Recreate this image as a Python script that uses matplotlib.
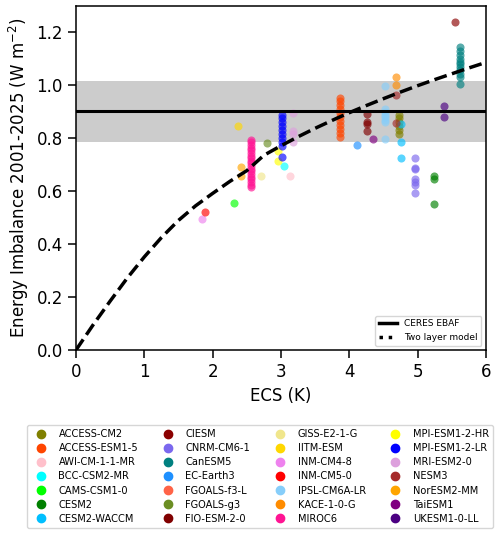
import matplotlib
matplotlib.use("Agg")
import matplotlib.pyplot as plt
from matplotlib.lines import Line2D

# observed imbalance (CERES EBAF) and its uncertainty band
ceres_mean = 0.902
ceres_low = 0.788
ceres_high = 1.015

# two layer model curve
curve_ecs = [0.0, 0.25, 0.5, 0.75, 1.0, 1.25, 1.5, 1.75, 2.0, 2.25, 2.5, 2.75,
             3.0, 3.25, 3.5, 3.75, 4.0, 4.25, 4.5, 4.75, 5.0, 5.25, 5.5, 5.75, 6.0]
curve_eei = [0.0, 0.095, 0.185, 0.272, 0.352, 0.425, 0.49, 0.545, 0.592, 0.637,
             0.678, 0.736, 0.772, 0.806, 0.838, 0.868, 0.897, 0.924, 0.95,
             0.975, 0.999, 1.022, 1.044, 1.066, 1.087]

models = ["ACCESS-CM2", "ACCESS-ESM1-5", "AWI-CM-1-1-MR", "BCC-CSM2-MR",
          "CAMS-CSM1-0", "CESM2", "CESM2-WACCM", "CIESM", "CNRM-CM6-1",
          "CanESM5", "EC-Earth3", "FGOALS-f3-L", "FGOALS-g3", "FIO-ESM-2-0",
          "GISS-E2-1-G", "IITM-ESM", "INM-CM4-8", "INM-CM5-0", "IPSL-CM6A-LR",
          "KACE-1-0-G", "MIROC6", "MPI-ESM1-2-HR", "MPI-ESM1-2-LR",
          "MRI-ESM2-0", "NESM3", "NorESM2-MM", "TaiESM1", "UKESM1-0-LL"]

colors = ["olive", "orangered", "pink", "cyan", "lime", "green", "deepskyblue",
          "darkred", "mediumslateblue", "teal", "dodgerblue", "tomato",
          "olivedrab", "maroon", "khaki", "gold", "violet", "red",
          "lightskyblue", "darkorange", "deeppink", "yellow", "blue", "plum",
          "brown", "orange", "purple", "indigo"]

ecs = [4.73, 3.86, 3.13, 3.04, 2.31, 5.24, 4.75, 5.54, 4.96, 5.62, 4.11, 3.0,
       2.79, 4.26, 2.71, 2.37, 1.85, 1.89, 4.52, 4.69, 2.56, 2.96, 3.02, 3.17,
       4.69, 2.42, 4.34, 5.38]

eei = [
    [0.816, 0.83, 0.845, 0.86, 0.875, 0.889],                       # ACCESS-CM2
    [0.805, 0.82, 0.835, 0.85, 0.865, 0.88, 0.895, 0.91, 0.925, 0.94, 0.952],
    [0.656],                                                        # AWI
    [0.696],                                                        # BCC
    [0.554],                                                        # CAMS
    [0.656, 0.645, 0.551],                                          # CESM2
    [0.854, 0.787, 0.724],                                          # CESM2-WACCM
    [1.239],                                                        # CIESM
    [0.726, 0.689, 0.683, 0.647, 0.634, 0.624, 0.593],              # CNRM
    [1.006, 1.03, 1.045, 1.06, 1.07, 1.08, 1.09, 1.1, 1.115, 1.13, 1.145],
    [0.776],                                                        # EC-Earth3
    [],                                                             # FGOALS-f3-L
    [0.781],                                                        # FGOALS-g3
    [0.892, 0.863, 0.854, 0.826],                                   # FIO
    [0.656],                                                        # GISS
    [0.848],                                                        # IITM
    [0.494],                                                        # INM-CM4-8
    [0.522],                                                        # INM-CM5-0
    [0.997, 0.91, 0.9, 0.89, 0.88, 0.87, 0.86, 0.797],              # IPSL
    [1.03, 1.0],                                                    # KACE
    [0.615, 0.624, 0.636, 0.645, 0.654, 0.666, 0.675, 0.684, 0.696, 0.705,
     0.714, 0.726, 0.735, 0.744, 0.756, 0.765, 0.774, 0.786, 0.795],  # MIROC6
    [0.753, 0.715],                                                 # MPI-HR
    [0.728, 0.772, 0.785, 0.8, 0.815, 0.83, 0.845, 0.86, 0.875, 0.89],
    [0.894, 0.829, 0.816, 0.786],                                   # MRI
    [0.964, 0.858],                                                 # NESM3
    [0.69, 0.658],                                                  # NorESM2-MM
    [0.797],                                                        # TaiESM1
    [0.921, 0.88],                                                  # UKESM
]

fig = plt.figure(figsize=(5.0, 5.38), dpi=100)
ax = fig.add_axes([0.152, 0.3494, 0.82, 0.6394])

ax.axhspan(ceres_low, ceres_high, color="#cccccc", lw=0, zorder=0)

handles = []
for name, col, e, vals in zip(models, colors, ecs, eei):
    ax.scatter([e] * len(vals), vals, s=34, color=col, alpha=0.65,
               linewidths=0, zorder=1)
    handles.append(Line2D([], [], marker="o", ls="none", color=col,
                          markersize=6, label=name))

ax.axhline(ceres_mean, color="black", lw=2.2, zorder=3)
ax.plot(curve_ecs, curve_eei, color="black", ls="--", lw=2.5, zorder=3)

ax.set_xlim(0, 6)
ax.set_ylim(0, 1.3)
ax.set_yticks([0.0, 0.2, 0.4, 0.6, 0.8, 1.0, 1.2])
ax.tick_params(labelsize=12, length=6, width=1.1)
for sp in ax.spines.values():
    sp.set_linewidth(1.1)
ax.set_xlabel("ECS (K)", fontsize=12)
ax.set_ylabel("Energy Imbalance 2001-2025 (W m$^{-2}$)", fontsize=12)

inner = [Line2D([], [], color="black", lw=2.5, label="CERES EBAF"),
         Line2D([], [], color="black", lw=2.5, ls=":", label="Two layer model")]
ax.legend(handles=inner, loc="lower right", fontsize=6.5)

fig.legend(handles=handles, loc="upper center", bbox_to_anchor=(0.52, 0.219),
           ncol=4, fontsize=7.1, handletextpad=0.8, columnspacing=2.0,
           labelspacing=0.42)

fig.savefig("out.png", dpi=100)
